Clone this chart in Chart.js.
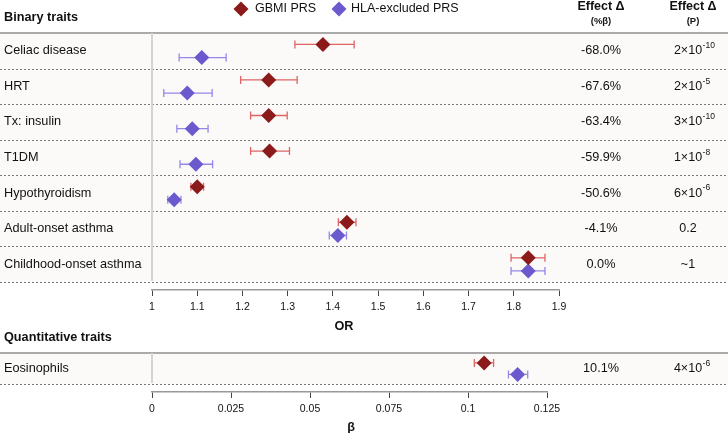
<!DOCTYPE html>
<html>
<head>
<meta charset="utf-8">
<script src="https://cdn.jsdelivr.net/npm/chart.js@4.4.1/dist/chart.umd.min.js"></script>
<style>
  html, body { margin: 0; padding: 0; background: #fff; }
  #wrap { position: relative; width: 728px; height: 433px; }
  #wrap canvas { position: absolute; left: 0; }
  #binary { top: 0; }
  #quant { top: 320px; }
</style>
</head>
<body>
<div id="wrap">
  <canvas id="binary" width="728" height="340"></canvas>
  <canvas id="quant" width="728" height="113"></canvas>
</div>
<script>
// binary traits (OR)
const binaryTraits = ['Celiac disease', 'HRT', 'Tx: insulin', 'T1DM', 'Hypothyroidism', 'Adult-onset asthma', 'Childhood-onset asthma'];
const gbmiOR = [1.378, 1.258, 1.258, 1.260, 1.100, 1.431, 1.832];
const gbmiORlo = [1.316, 1.196, 1.218, 1.218, 1.086, 1.412, 1.794];
const gbmiORhi = [1.447, 1.321, 1.299, 1.304, 1.114, 1.451, 1.869];
const hlaOR = [1.110, 1.078, 1.089, 1.097, 1.049, 1.411, 1.832];
const hlaORlo = [1.060, 1.026, 1.055, 1.062, 1.035, 1.392, 1.794];
const hlaORhi = [1.164, 1.133, 1.124, 1.134, 1.064, 1.430, 1.869];
const binaryDeltaPct = ['-68.0%', '-67.6%', '-63.4%', '-59.9%', '-50.6%', '-4.1%', '0.0%'];
const binaryDeltaP = [['2\u00d710', '-10'], ['2\u00d710', '-5'], ['3\u00d710', '-10'], ['1\u00d710', '-8'], ['6\u00d710', '-6'], ['0.2', ''], ['~1', '']];
const orTicks = [1, 1.1, 1.2, 1.3, 1.4, 1.5, 1.6, 1.7, 1.8, 1.9];
const orTickLabels = ['1', '1.1', '1.2', '1.3', '1.4', '1.5', '1.6', '1.7', '1.8', '1.9'];

// quantitative traits (beta)
const quantTraits = ['Eosinophils'];
const gbmiBeta = [0.1051];
const gbmiBetaLo = [0.1020];
const gbmiBetaHi = [0.1081];
const hlaBeta = [0.1157];
const hlaBetaLo = [0.1128];
const hlaBetaHi = [0.1189];
const quantDeltaPct = ['10.1%'];
const quantDeltaP = [['4\u00d710', '-6']];
const betaTicks = [0, 0.025, 0.05, 0.075, 0.1, 0.125];
const betaTickLabels = ['0', '0.025', '0.05', '0.075', '0.1', '0.125'];

const seriesNames = ['GBMI PRS', 'HLA-excluded PRS'];

const C_GBMI = '#8b1a1a', C_GBMI_CI = '#e06464';
const C_HLA = '#6a5acd', C_HLA_CI = '#9486ea';
const BAND = '#fbfaf8';
const FONT = '"Liberation Sans", Arial, Helvetica, sans-serif';
const W = 728;
const OFF_GBMI = 0.32, OFF_HLA = 0.69;   // vertical place of the two series inside a row

function pts(vals, off) {
    return vals.map((v, i) => ({ x: v, y: i + off }));
}

function text(ctx, s, x, y, font, align, color) {
    ctx.font = font;
    ctx.textAlign = align || 'left';
    ctx.textBaseline = 'middle';
    ctx.fillStyle = color || '#111';
    ctx.fillText(s, x, y);
}

function pText(ctx, p, cx, y) {
    // base centred, superscript added after it
    ctx.font = '12.5px ' + FONT;
    const w = ctx.measureText(p[0]).width;
    text(ctx, p[0], cx - w / 2, y, '12.5px ' + FONT, 'left');
    if (p[1]) text(ctx, p[1], cx + w / 2 + 0.5, y - 5, '8.5px ' + FONT, 'left');
}

function diamond(ctx, x, y, r, color) {
    ctx.fillStyle = color;
    ctx.beginPath();
    ctx.moveTo(x - r, y); ctx.lineTo(x, y - r); ctx.lineTo(x + r, y); ctx.lineTo(x, y + r);
    ctx.closePath(); ctx.fill();
}

// draws row bands, rules, labels, columns and error bars
function panelPlugin(cfg) {
    return {
        id: 'panel_' + cfg.id,
        beforeDatasetsDraw(chart) {
            const ctx = chart.ctx, x = chart.scales.x, y = chart.scales.y;
            const n = cfg.labels.length;
            const top = y.getPixelForValue(0), bot = y.getPixelForValue(n);
            ctx.save();
            ctx.fillStyle = BAND;
            ctx.fillRect(0, top, W, bot - top);
            // top rule
            ctx.strokeStyle = '#aaa'; ctx.lineWidth = 2;
            ctx.beginPath(); ctx.moveTo(0, top); ctx.lineTo(W, top); ctx.stroke();
            // row separators
            ctx.strokeStyle = '#777'; ctx.lineWidth = 1; ctx.setLineDash([2, 2]);
            for (let i = 1; i <= n; i++) {
                const py = Math.round(y.getPixelForValue(i)) + 0.5;
                ctx.beginPath(); ctx.moveTo(0, py); ctx.lineTo(W, py); ctx.stroke();
            }
            ctx.setLineDash([]);
            // reference line
            const x0 = x.getPixelForValue(x.min);
            ctx.strokeStyle = '#d4d4d4'; ctx.lineWidth = 2;
            ctx.beginPath(); ctx.moveTo(x0, top); ctx.lineTo(x0, bot - 1); ctx.stroke();
            // error bars
            cfg.bars.forEach(b => {
                ctx.strokeStyle = b.color; ctx.lineWidth = 1.3;
                b.lo.forEach((lo, i) => {
                    const py = y.getPixelForValue(i + b.off);
                    const a = x.getPixelForValue(lo), c = x.getPixelForValue(b.hi[i]);
                    ctx.beginPath();
                    ctx.moveTo(a, py); ctx.lineTo(c, py);
                    ctx.moveTo(a, py - 4); ctx.lineTo(a, py + 4);
                    ctx.moveTo(c, py - 4); ctx.lineTo(c, py + 4);
                    ctx.stroke();
                });
            });
            // labels and right columns
            cfg.labels.forEach((l, i) => {
                const py = y.getPixelForValue(i + 0.5);
                text(ctx, l, 4, py, '12.7px ' + FONT, 'left');
                text(ctx, cfg.pct[i], 601, py, '12.7px ' + FONT, 'center');
                pText(ctx, cfg.p[i], 688, py);
            });
            // section title
            text(ctx, cfg.title, 4, top - 16, 'bold 12.7px ' + FONT, 'left');
            // axis title
            text(ctx, cfg.axisTitle, cfg.axisTitleX, chart.height - cfg.axisTitleFromBottom, 'bold 12.7px ' + FONT, 'center');
            if (cfg.header) cfg.header(ctx);
            ctx.restore();
        }
    };
}

function header(ctx) {
    text(ctx, 'Effect \u0394', 601, 7, 'bold 12.5px ' + FONT, 'center');
    text(ctx, '(%\u03b2)', 601, 21, 'bold 9.5px ' + FONT, 'center');
    text(ctx, 'Effect \u0394', 693, 7, 'bold 12.5px ' + FONT, 'center');
    text(ctx, '(P)', 693, 21, 'bold 9.5px ' + FONT, 'center');
    // legend
    diamond(ctx, 241, 9, 7.5, C_GBMI);
    text(ctx, seriesNames[0], 255, 9, '12.5px ' + FONT, 'left');
    diamond(ctx, 339, 9, 7.5, C_HLA);
    text(ctx, seriesNames[1], 351, 9, '12.5px ' + FONT, 'left');
}

function xAxis(min, max, ticks, labels, height) {
    return {
        type: 'linear', min: min, max: max,
        afterBuildTicks: s => { s.ticks = ticks.map(v => ({ value: v })); },
        afterFit: s => { s.height = height; },
        border: { display: true, color: '#999', width: 1.5 },
        grid: { drawOnChartArea: false, drawTicks: true, tickLength: 6, color: '#444', tickWidth: 1 },
        ticks: {
            autoSkip: false, maxRotation: 0, padding: 5, color: '#111',
            font: { family: FONT, size: 10.5 },
            callback: (v, i) => labels[i]
        }
    };
}

function makeChart(id, cfg) {
    const datasets = [
        { label: seriesNames[0], data: pts(cfg.g, OFF_GBMI), backgroundColor: C_GBMI, borderWidth: 0, pointStyle: 'rectRot', pointRadius: 7.5 },
        { label: seriesNames[1], data: pts(cfg.h, OFF_HLA), backgroundColor: C_HLA, borderWidth: 0, pointStyle: 'rectRot', pointRadius: 7.5 }
    ];
    return new Chart(document.getElementById(id), {
        type: 'scatter',
        data: { datasets: datasets },
        options: {
            responsive: false, animation: false, devicePixelRatio: 1,
            layout: { padding: cfg.padding },
            plugins: { legend: { display: false }, tooltip: { enabled: false } },
            scales: {
                x: xAxis(cfg.min, cfg.max, cfg.ticks, cfg.tickLabels, cfg.axisH),
                y: { type: 'linear', reverse: true, min: 0, max: cfg.yMax, display: false }
            }
        },
        plugins: [panelPlugin(cfg)]
    });
}

makeChart('binary', {
    id: 'binary', title: 'Binary traits', labels: binaryTraits, pct: binaryDeltaPct, p: binaryDeltaP,
    g: gbmiOR, h: hlaOR, min: 1, max: 1.9, ticks: orTicks, tickLabels: orTickLabels,
    bars: [{ lo: gbmiORlo, hi: gbmiORhi, off: OFF_GBMI, color: C_GBMI_CI }, { lo: hlaORlo, hi: hlaORhi, off: OFF_HLA, color: C_HLA_CI }],
    padding: { top: 33, left: 152, right: 169, bottom: 0 }, axisH: 50, yMax: 7.225,
    axisTitle: 'OR', axisTitleX: 344, axisTitleFromBottom: 14, header: header
});

makeChart('quant', {
    id: 'quant', title: 'Quantitative traits', labels: quantTraits, pct: quantDeltaPct, p: quantDeltaP,
    g: gbmiBeta, h: hlaBeta, min: 0, max: 0.125, ticks: betaTicks, tickLabels: betaTickLabels,
    bars: [{ lo: gbmiBetaLo, hi: gbmiBetaHi, off: OFF_GBMI, color: C_GBMI_CI }, { lo: hlaBetaLo, hi: hlaBetaHi, off: OFF_HLA, color: C_HLA_CI }],
    padding: { top: 33, left: 152, right: 181, bottom: 0 }, axisH: 41, yMax: 1.258,
    axisTitle: '\u03b2', axisTitleX: 351, axisTitleFromBottom: 6
});
</script>
</body>
</html>
